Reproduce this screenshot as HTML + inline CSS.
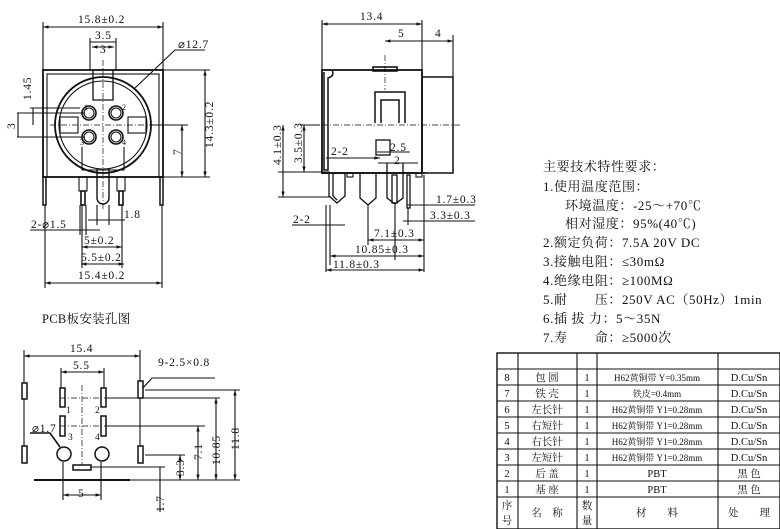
<!DOCTYPE html>
<html><head><meta charset="utf-8"><style>
html,body{margin:0;padding:0;background:#fff}
svg{display:block}
text{font-family:"Liberation Serif","Noto Serif CJK SC",serif;fill:#111}
</style></head><body>
<svg width="780" height="529" viewBox="0 0 780 529" xmlns="http://www.w3.org/2000/svg">
<defs>
<marker id="a" viewBox="0 0 10 10" refX="10" refY="5" markerWidth="5" markerHeight="5" orient="auto-start-reverse"><path d="M0,2 L10,5 L0,8z" fill="#111"/></marker>
</defs>
<g stroke="#111" fill="none" stroke-width="1.1">
<!-- ===== Left front view ===== -->
<rect x="43" y="70" width="120" height="107" stroke-width="1.8"/>
<rect x="47" y="74" width="112" height="103"/>
<circle cx="103" cy="125" r="48" stroke-width="1.8"/>
<circle cx="103" cy="125" r="44"/>
<path d="M93,70 V100 H113 V70" stroke-width="1.3"/>
<rect x="60" y="117" width="18" height="16"/>
<rect x="128" y="117" width="18" height="16"/>
<circle cx="89" cy="113" r="7" stroke-width="1.6"/><circle cx="89" cy="113" r="5"/>
<circle cx="116" cy="113" r="7" stroke-width="1.6"/><circle cx="116" cy="113" r="5"/>
<circle cx="89" cy="137" r="7" stroke-width="1.6"/><circle cx="89" cy="137" r="5"/>
<circle cx="116" cy="137" r="7" stroke-width="1.6"/><circle cx="116" cy="137" r="5"/>
<path d="M82,147 V170 H124 V147"/>
<path d="M97,168 V198 A6,6 0 0 0 109,198 V168" stroke-width="1.4"/>
<rect x="79" y="177" width="8" height="14"/><rect x="81" y="191" width="4" height="14" stroke-width="1.6"/>
<rect x="117" y="177" width="8" height="14"/><rect x="119" y="191" width="4" height="14" stroke-width="1.6"/>
<rect x="43" y="177" width="3" height="28" stroke-width="1.5"/><rect x="160" y="177" width="3" height="28" stroke-width="1.5"/>
<path d="M103,60 V210 M50,125 H185" stroke-dasharray="6,2,1,2" stroke-width="0.7"/>
<path d="M43,22 V70 M163,22 V70"/>
<line x1="43" y1="27" x2="163" y2="27" marker-start="url(#a)" marker-end="url(#a)"/>
<path d="M90,38 V70 M116,38 V70"/>
<line x1="90" y1="42" x2="116" y2="42"/>
<line x1="92" y1="47" x2="114" y2="47" marker-start="url(#a)" marker-end="url(#a)"/>
<path d="M135,88 L175,50 H205"/>
<path d="M163,70 H210 M150,177 H210 M150,125 H188"/>
<line x1="205" y1="70" x2="205" y2="177" marker-start="url(#a)" marker-end="url(#a)"/>
<line x1="182" y1="125" x2="182" y2="177" marker-start="url(#a)" marker-end="url(#a)"/>
<path d="M17,113 H85 M17,137 H85 M30,108 H80"/>
<line x1="18" y1="113" x2="18" y2="137"/>
<line x1="33" y1="108" x2="33" y2="125"/>
<path d="M45,205 V288 M162,205 V288 M82,205 V268 M122,205 V268 M80,205 V235 M86,205 V235 M97,205 V225 M109,205 V225"/>
<line x1="88" y1="220" x2="125" y2="220"/><line x1="70" y1="230" x2="100" y2="230"/>
<line x1="82" y1="247" x2="122" y2="247" marker-start="url(#a)" marker-end="url(#a)"/>
<line x1="81" y1="264" x2="124" y2="264" marker-start="url(#a)" marker-end="url(#a)"/>
<line x1="45" y1="283" x2="162" y2="283" marker-start="url(#a)" marker-end="url(#a)"/>
<line x1="30" y1="230" x2="70" y2="230"/>

<!-- ===== Middle side view ===== -->
<rect x="322" y="70" width="100" height="103" stroke-width="1.8"/>
<rect x="422" y="77" width="31" height="96" stroke-width="1.5"/>
<path d="M324,72 V170 H328 V78 Q335,76 332,70" stroke-width="1.5"/>
<rect x="373" y="67" width="24" height="4" stroke-width="1.6"/>
<path d="M375,123 V92 H405 V123 M381,123 V100 H399 V123" stroke-width="1.5"/>
<rect x="376" y="140" width="14" height="15" stroke-width="1.3"/>
<path d="M300,125 H460 M385,55 V90" stroke-dasharray="6,2,1,2" stroke-width="0.7"/>
<path d="M322,173 H426" stroke-width="1.6"/>
<path d="M329,173 V196 L337,203 L345,196 V173 M333,173 V196 L337,200" stroke-width="1.3"/>
<path d="M360,173 V198 L368,205 L376,198 V173" stroke-width="1.3"/>
<path d="M387,163 V198 L395,204 L403,198 V163" stroke-width="1.3"/>
<rect x="392" y="175" width="5" height="28" stroke-width="1.3"/>
<rect x="407" y="175" width="3" height="33" stroke-width="1.3"/>
<rect x="347" y="173" width="6" height="4"/><rect x="416" y="173" width="6" height="4"/>
<path d="M322,20 V70 M422,20 V77 M453,35 V77"/>
<line x1="322" y1="24" x2="422" y2="24" marker-start="url(#a)" marker-end="url(#a)"/>
<line x1="385" y1="41" x2="422" y2="41" marker-start="url(#a)"/>
<line x1="422" y1="41" x2="453" y2="41" marker-end="url(#a)"/>
<path d="M278,172 H330 M278,197 H330 M300,125 H320"/>
<line x1="283" y1="125" x2="283" y2="197" marker-start="url(#a)" marker-end="url(#a)"/>
<line x1="304" y1="125" x2="304" y2="172" marker-start="url(#a)" marker-end="url(#a)"/>
<line x1="326" y1="158" x2="380" y2="158" marker-end="url(#a)"/>
<line x1="377" y1="152" x2="410" y2="152"/><line x1="378" y1="163" x2="418" y2="163"/>
<path d="M407,205 H475 M403,221 H475 M408,208 V225 M395,205 V260 M368,205 V245 M330,205 V265 M326,205 V272 M424,175 V272"/>
<line x1="292" y1="225" x2="345" y2="225"/>
<line x1="368" y1="240" x2="424" y2="240" marker-start="url(#a)" marker-end="url(#a)"/>
<line x1="330" y1="256" x2="424" y2="256" marker-start="url(#a)" marker-end="url(#a)"/>
<line x1="326" y1="270" x2="424" y2="270" marker-start="url(#a)" marker-end="url(#a)"/>

<!-- ===== PCB view ===== -->
<g stroke-width="1.5">
<rect x="22" y="383" width="5" height="16"/>
<rect x="22" y="446" width="5" height="17"/>
<rect x="138" y="381" width="5" height="17"/>
<rect x="138" y="446" width="5" height="17"/>
<rect x="60" y="388" width="5" height="19"/>
<rect x="101" y="388" width="5" height="19"/>
<rect x="60" y="416" width="5" height="20"/>
<rect x="101" y="416" width="5" height="20"/>
<circle cx="64" cy="454" r="7"/><circle cx="102" cy="454" r="7"/>
<rect x="73" y="465" width="18" height="5"/>
</g>
<path d="M34,480 H130" stroke-width="2"/>
<path d="M82,385 V465 M60,398 H220 M60,426 H200" stroke-dasharray="6,2,1,2" stroke-width="0.7"/>
<path d="M24,350 V383 M24,399 V446 M140,350 V381 M140,398 V446 M61,368 V388 M104,368 V388 M63,462 V500 M101,462 V500"/>
<line x1="24" y1="356" x2="140" y2="356" marker-start="url(#a)" marker-end="url(#a)"/>
<line x1="61" y1="372" x2="104" y2="372" marker-start="url(#a)" marker-end="url(#a)"/>
<line x1="63" y1="495" x2="101" y2="495" marker-start="url(#a)" marker-end="url(#a)"/>
<path d="M143,388 L152,378 H215"/>
<path d="M30,433 H50 L60,447" stroke-width="1.6"/>
<path d="M145,390 H240 M106,398 H220 M106,426 H205 M145,455 H185 M91,467 H165 M130,480 H240"/>
<line x1="235" y1="390" x2="235" y2="480" marker-start="url(#a)" marker-end="url(#a)"/>
<line x1="216" y1="398" x2="216" y2="480" marker-start="url(#a)" marker-end="url(#a)"/>
<line x1="198" y1="426" x2="198" y2="480" marker-start="url(#a)" marker-end="url(#a)"/>
<line x1="180" y1="455" x2="180" y2="480" marker-start="url(#a)" marker-end="url(#a)"/>
<line x1="160" y1="467" x2="160" y2="512"/>

<!-- ===== Table ===== -->
<rect x="497" y="353" width="283" height="176" stroke-width="1.4"/>
<path d="M518,353 V529 M577,353 V529 M597,353 V529 M718,353 V529"/>
<path d="M497,369 H780 M497,385 H780 M497,401 H780 M497,417 H780 M497,433 H780 M497,449 H780 M497,465 H780 M497,481 H780 M497,497 H780"/>
</g>

<g font-size="11.5" letter-spacing="0.8">
<text x="78" y="23">15.8±0.2</text>
<text x="95" y="39">3.5</text>
<text x="100" y="53">3</text>
<text x="178" y="48">⌀12.7</text>
<text x="84" y="110" font-size="8">1</text><text x="122" y="110" font-size="8">2</text>
<text x="80" y="145" font-size="8">3</text><text x="122" y="145" font-size="8">4</text>
<text x="124" y="218">1.8</text>
<text x="31" y="228">2-⌀1.5</text>
<text x="84" y="244">5±0.2</text>
<text x="81" y="261">5.5±0.2</text>
<text x="78" y="279">15.4±0.2</text>
<text transform="translate(213,148) rotate(-90)">14.3±0.2</text>
<text transform="translate(181,155) rotate(-90)">7</text>
<text transform="translate(31,100) rotate(-90)">1.45</text>
<text transform="translate(15,129) rotate(-90)">3</text>

<text x="360" y="20">13.4</text>
<text x="398" y="37">5</text>
<text x="435" y="37">4</text>
<text x="331" y="155">2-2</text>
<text x="390" y="151">2.5</text>
<text x="394" y="164">2</text>
<text x="293" y="223">2-2</text>
<text transform="translate(281,165) rotate(-90)">4.1±0.3</text>
<text transform="translate(302,163) rotate(-90)">3.5±0.3</text>
<text x="436" y="203">1.7±0.3</text>
<text x="430" y="219">3.3±0.3</text>
<text x="374" y="237">7.1±0.3</text>
<text x="355" y="253">10.85±0.3</text>
<text x="333" y="268">11.8±0.3</text>

<text x="42" y="323" font-size="12.5" letter-spacing="0.3">PCB板安装孔图</text>
<text x="70" y="352">15.4</text>
<text x="73" y="369">5.5</text>
<text x="158" y="366">9-2.5×0.8</text>
<text x="66" y="413" font-size="9.5">1</text><text x="95" y="413" font-size="9.5">2</text>
<text x="68" y="440" font-size="9.5">3</text><text x="95" y="440" font-size="9.5">4</text>
<text x="32" y="432">⌀1.7</text>
<text x="78" y="497">5</text>
<text transform="translate(184,476) rotate(-90)">3.3</text>
<text transform="translate(202,460) rotate(-90)">7.1</text>
<text transform="translate(220,465) rotate(-90)">10.85</text>
<text transform="translate(239,450) rotate(-90)">11.8</text>
<text transform="translate(164,512) rotate(-90)">1.7</text>
</g>

<g font-size="13" letter-spacing="0.6">
<text x="543" y="171">主要技术特性要求：</text>
<text x="543" y="191">1.使用温度范围：</text>
<text x="565" y="210">环境温度：-25～+70℃</text>
<text x="565" y="228">相对湿度：95%(40℃)</text>
<text x="543" y="247">2.额定负荷：7.5A 20V DC</text>
<text x="543" y="266">3.接触电阻：≤30mΩ</text>
<text x="543" y="285">4.绝缘电阻：≥100MΩ</text>
<text x="543" y="304">5.耐　　压：250V AC（50Hz）1min</text>
<text x="543" y="323">6.插 拔 力：5～35N</text>
<text x="543" y="342">7.寿　　命：≥5000次</text>
</g>

<g font-size="10.5" text-anchor="middle">
<text x="507" y="381">8</text><text x="547" y="381">包 圆</text><text x="587" y="381">1</text><text x="657" y="381" font-size="9">H62黄铜带 Y=0.35mm</text><text x="749" y="381">D.Cu/Sn</text>
<text x="507" y="397">7</text><text x="547" y="397">铁 壳</text><text x="587" y="397">1</text><text x="657" y="397" font-size="9">铁皮=0.4mm</text><text x="749" y="397">D.Cu/Sn</text>
<text x="507" y="413">6</text><text x="547" y="413">左长针</text><text x="587" y="413">1</text><text x="657" y="413" font-size="9">H62黄铜带 Y1=0.28mm</text><text x="749" y="413">D.Cu/Sn</text>
<text x="507" y="429">5</text><text x="547" y="429">右短针</text><text x="587" y="429">1</text><text x="657" y="429" font-size="9">H62黄铜带 Y1=0.28mm</text><text x="749" y="429">D.Cu/Sn</text>
<text x="507" y="445">4</text><text x="547" y="445">右长针</text><text x="587" y="445">1</text><text x="657" y="445" font-size="9">H62黄铜带 Y1=0.28mm</text><text x="749" y="445">D.Cu/Sn</text>
<text x="507" y="461">3</text><text x="547" y="461">左短针</text><text x="587" y="461">1</text><text x="657" y="461" font-size="9">H62黄铜带 Y1=0.28mm</text><text x="749" y="461">D.Cu/Sn</text>
<text x="507" y="477">2</text><text x="547" y="477">后 盖</text><text x="587" y="477">1</text><text x="657" y="477">PBT</text><text x="749" y="477">黑 色</text>
<text x="507" y="493">1</text><text x="547" y="493">基 座</text><text x="587" y="493">1</text><text x="657" y="493">PBT</text><text x="749" y="493">黑 色</text>
<text x="507" y="509">序</text><text x="507" y="524">号</text>
<text x="547" y="516">名　称</text>
<text x="587" y="509">数</text><text x="587" y="524">量</text>
<text x="657" y="516">材　　料</text>
<text x="749" y="516">处　　理</text>
</g>
</svg>
</body></html>
